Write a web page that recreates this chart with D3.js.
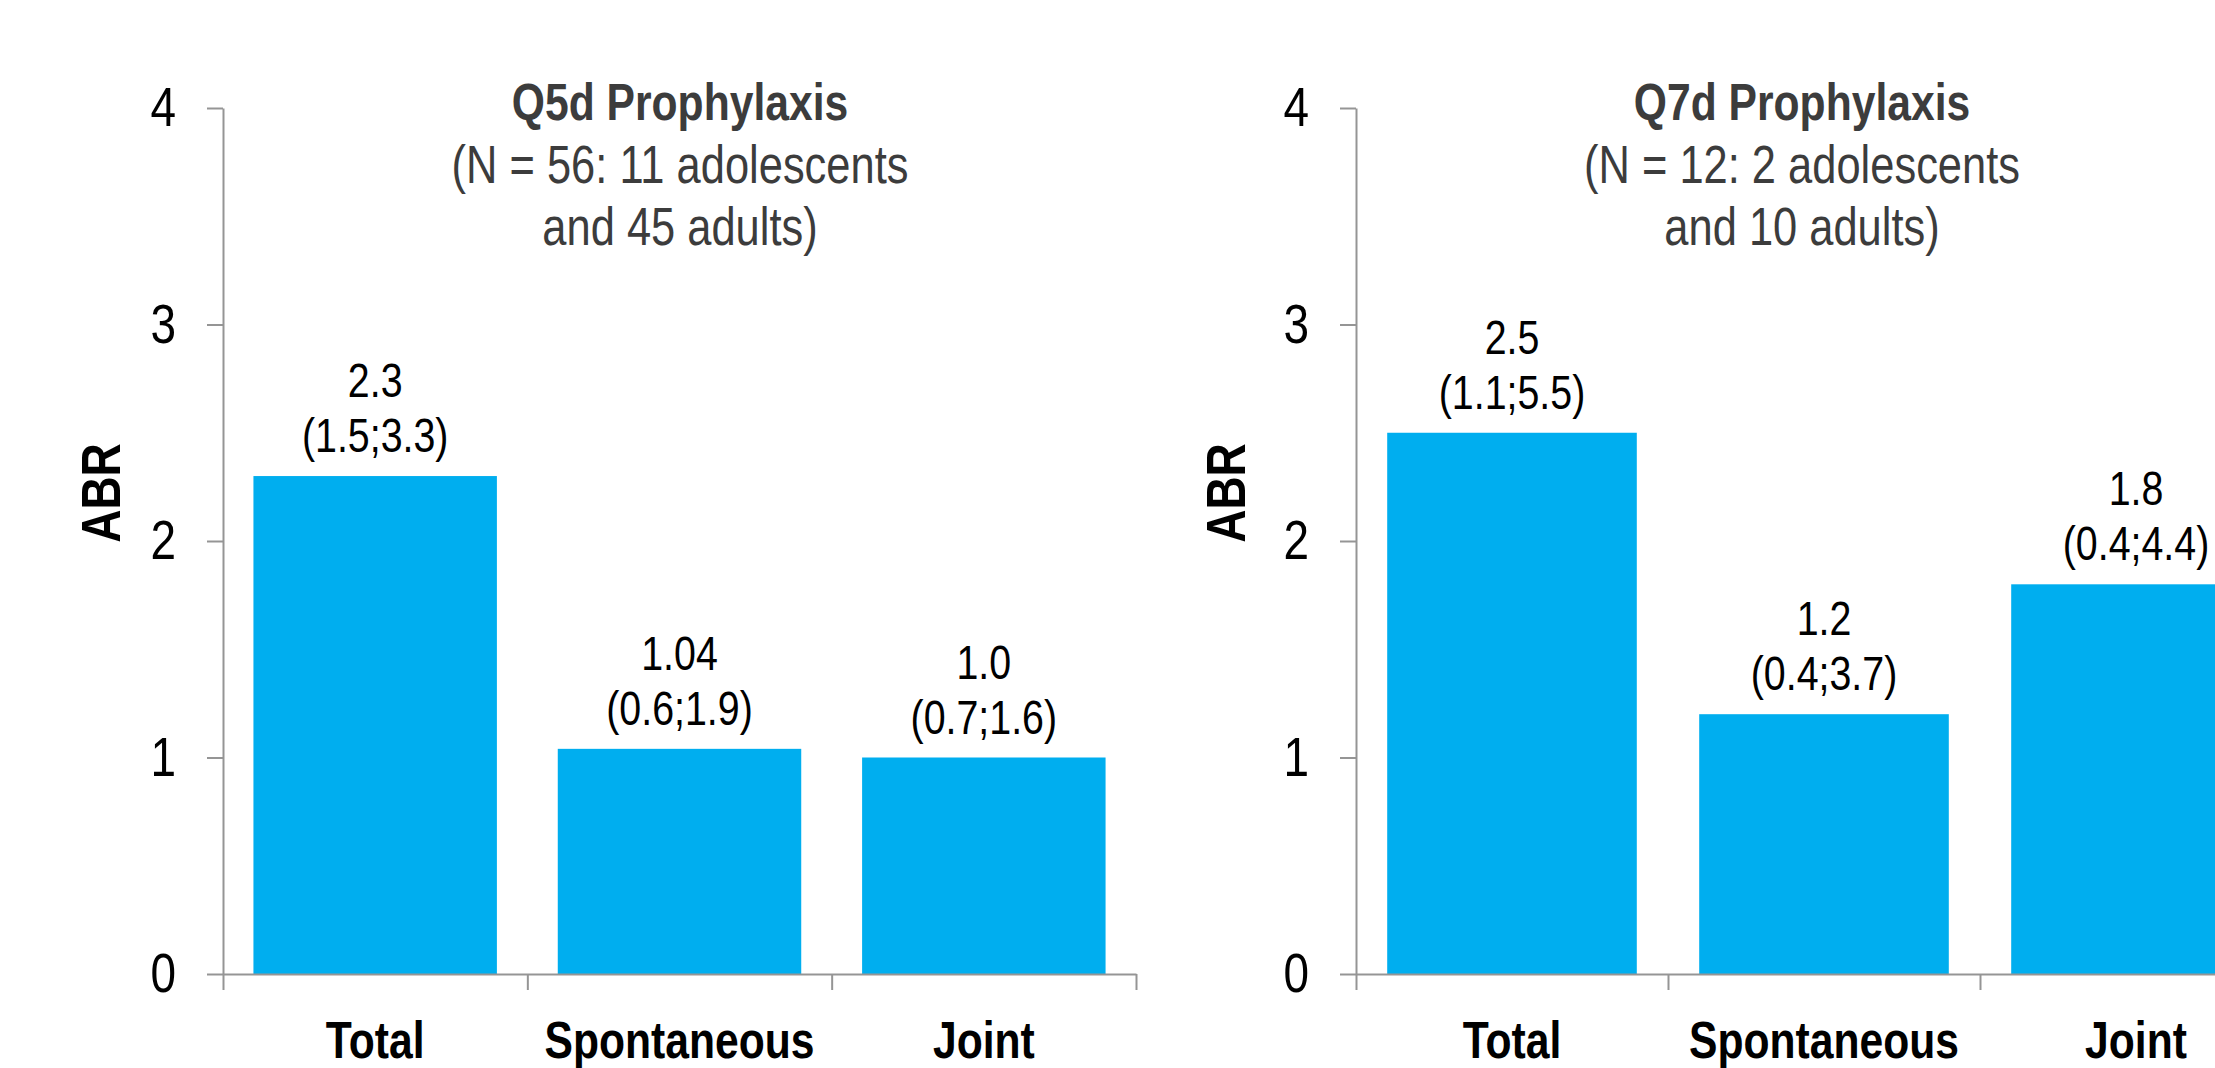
<!DOCTYPE html>
<html>
<head>
<meta charset="utf-8">
<script src="https://cdn.jsdelivr.net/npm/d3@7"></script>
<style>
  html, body { margin: 0; padding: 0; background: #ffffff; }
  svg { display: block; }
  text { font-family: 'Liberation Sans', Arial, sans-serif; }
</style>
</head>
<body>
<svg id="chart" width="2215" height="1068"></svg>
<script>
// Annualized bleeding rate by bleed type, for the two prophylaxis regimens
const categories = ["Total", "Spontaneous", "Joint"];

const q5dValues = [2.3, 1.04, 1.0];
const q5dValueLabels = ["2.3", "1.04", "1.0"];
const q5dRanges = ["(1.5;3.3)", "(0.6;1.9)", "(0.7;1.6)"];
const q5dTitle = "Q5d Prophylaxis";
const q5dSubtitle = ["(N = 56: 11 adolescents", "and 45 adults)"];

const q7dValues = [2.5, 1.2, 1.8];
const q7dValueLabels = ["2.5", "1.2", "1.8"];
const q7dRanges = ["(1.1;5.5)", "(0.4;3.7)", "(0.4;4.4)"];
const q7dTitle = "Q7d Prophylaxis";
const q7dSubtitle = ["(N = 12: 2 adolescents", "and 10 adults)"];

const yTicks = [0, 1, 2, 3, 4];
const yLabel = "ABR";

const svg = d3.select("#chart");
const BAR = "#00aeef";
const AXIS = "#959595";
const TITLE = "#3c3c3c";
const NARROW = 0.82; // condensed type, squeezed horizontally

// Move a text's x/y into a transform so it can be condensed around its anchor
function condense(sel, extra) {
  sel.each(function () {
    const t = d3.select(this);
    const x = +t.attr("x") || 0;
    const yy = +t.attr("y") || 0;
    t.attr("x", 0).attr("y", 0)
      .attr("transform", `translate(${x},${yy}) ${extra || ""} scale(${NARROW},1)`);
  });
}

const y = d3.scaleLinear().domain([0, 4]).range([974, 108]);

function panel(opts) {
  const g = svg.append("g");
  const x = d3.scaleBand()
    .domain(categories)
    .range([opts.x0, opts.x1])
    .paddingInner(0.2)
    .paddingOuter(0.1);

  const rows = categories.map((c, i) => ({ c, v: opts.values[i], lab: opts.labels[i], rng: opts.ranges[i] }));

  // bars
  g.selectAll("rect.bar")
    .data(rows)
    .join("rect")
    .attr("class", "bar")
    .attr("x", d => x(d.c))
    .attr("y", d => y(d.v))
    .attr("width", x.bandwidth())
    .attr("height", d => y(0) - y(d.v))
    .attr("fill", BAR);

  // value labels above bars: median, then interval
  const vals = g.selectAll("text.val")
    .data(rows)
    .join("text")
    .attr("class", "val")
    .attr("x", d => x(d.c) + x.bandwidth() / 2)
    .attr("y", d => y(d.v) - 79)
    .attr("text-anchor", "middle")
    .attr("font-size", 48)
    .attr("fill", "#000")
    .text(d => d.lab);
  condense(vals);
  const rngs = g.selectAll("text.rng")
    .data(rows)
    .join("text")
    .attr("class", "rng")
    .attr("x", d => x(d.c) + x.bandwidth() / 2)
    .attr("y", d => y(d.v) - 24)
    .attr("text-anchor", "middle")
    .attr("font-size", 48)
    .attr("fill", "#000")
    .text(d => d.rng);
  condense(rngs);

  // y axis
  const yAxis = g.append("g")
    .attr("transform", `translate(${opts.x0},0)`)
    .call(d3.axisLeft(y).tickValues(yTicks).tickFormat(d3.format("d")).tickSize(16).tickSizeOuter(0).tickPadding(31));
  yAxis.select(".domain").attr("stroke", AXIS).attr("stroke-width", 2);
  yAxis.selectAll(".tick line").attr("stroke", AXIS).attr("stroke-width", 2);
  const yt = yAxis.selectAll(".tick text")
    .attr("font-size", 56)
    .attr("fill", "#000")
    .attr("font-family", null);
  condense(yt);

  // x axis: boundaries between categories
  const edges = d3.scaleLinear().domain([0, categories.length]).range([opts.x0, opts.x1]);
  const xAxis = g.append("g")
    .attr("transform", `translate(0,${y(0)})`)
    .call(d3.axisBottom(edges).tickValues(d3.range(categories.length + 1)).tickFormat("").tickSize(16).tickSizeOuter(0));
  xAxis.select(".domain").attr("stroke", AXIS).attr("stroke-width", 2);
  xAxis.selectAll(".tick line").attr("stroke", AXIS).attr("stroke-width", 2);

  // category labels
  const catAxis = g.append("g")
    .attr("transform", `translate(0,${y(0)})`)
    .call(d3.axisBottom(x).tickSize(0).tickPadding(0));
  catAxis.select(".domain").remove();
  const ct = catAxis.selectAll(".tick text")
    .attr("y", 84)
    .attr("dy", null)
    .attr("font-size", 52)
    .attr("font-weight", "bold")
    .attr("fill", "#000")
    .attr("font-family", null);
  condense(ct);

  // axis title
  const yl = g.append("text")
    .attr("x", opts.yLabelX)
    .attr("y", 493)
    .attr("text-anchor", "middle")
    .attr("dy", "0.36em")
    .attr("font-size", 56)
    .attr("font-weight", "bold")
    .attr("fill", "#000")
    .text(yLabel);
  condense(yl, "rotate(-90)");

  // panel title
  const tt = g.append("text")
    .attr("x", opts.titleX)
    .attr("y", 120)
    .attr("text-anchor", "middle")
    .attr("font-size", 52)
    .attr("font-weight", "bold")
    .attr("fill", TITLE)
    .text(opts.title);
  condense(tt);
  opts.subtitle.forEach((line, i) => {
    const st = g.append("text")
      .attr("x", opts.titleX)
      .attr("y", 183 + i * 62)
      .attr("text-anchor", "middle")
      .attr("font-size", 53)
      .attr("fill", TITLE)
      .text(line);
    condense(st);
  });
}

panel({
  x0: 223, x1: 1136, yLabelX: 100, titleX: 680,
  values: q5dValues, labels: q5dValueLabels, ranges: q5dRanges,
  title: q5dTitle, subtitle: q5dSubtitle
});
panel({
  x0: 1356, x1: 2292, yLabelX: 1225, titleX: 1802,
  values: q7dValues, labels: q7dValueLabels, ranges: q7dRanges,
  title: q7dTitle, subtitle: q7dSubtitle
});
</script>
</body>
</html>
